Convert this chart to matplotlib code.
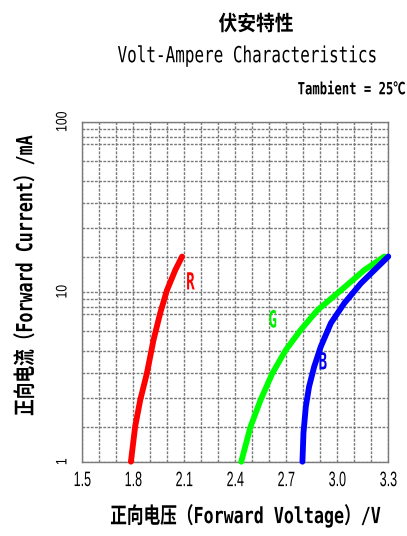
import matplotlib
matplotlib.use("Agg")
import matplotlib.pyplot as plt
from matplotlib.ticker import FixedLocator, NullFormatter
from matplotlib.patheffects import AbstractPathEffect
from matplotlib.transforms import Affine2D

# forward voltage (V) vs forward current (mA)
red_v = [1.786, 1.811, 1.841, 1.880, 1.919, 1.958, 1.998, 2.047, 2.087]
red_i = [1.0, 1.61, 2.31, 3.31, 5.2, 7.46, 10.2, 13.4, 16.1]

green_v = [2.435, 2.490, 2.549, 2.618, 2.697, 2.785, 2.884, 3.022, 3.159, 3.277]
green_i = [1.0, 1.61, 2.31, 3.31, 4.54, 5.96, 7.8, 10.2, 13.4, 16.1]

blue_v = [2.795, 2.801, 2.815, 2.834, 2.864, 2.903, 2.962, 3.041, 3.139, 3.238, 3.300]
blue_i = [1.0, 1.47, 2.11, 2.76, 3.62, 4.75, 6.52, 8.55, 11.2, 14.0, 16.1]

x_ticks = [1.5, 1.8, 2.1, 2.4, 2.7, 3.0, 3.3]
x_tick_labels = ["1.5", "1.8", "2.1", "2.4", "2.7", "3.0", "3.3"]
y_ticks = [1, 10, 100]
y_tick_labels = ["1", "10", "100"]

# the printed grid is not a true log grid: line offsets inside one decade
grid_frac = [0.206, 0.373, 0.52, 0.651, 0.769, 0.867, 0.912, 0.955]

MONO = ["DejaVu Sans Mono", "Noto Sans CJK SC"]
SANS = ["Liberation Sans", "DejaVu Sans"]
GRID = "#7a7a7a"


class Tall(AbstractPathEffect):
    """stretch glyphs across the baseline (the reference uses tall narrow fonts)"""
    def __init__(self, sy):
        super().__init__()
        self.sy = sy

    def draw_path(self, renderer, gc, tpath, affine, rgbFace=None):
        ext = tpath.get_extents()
        cy = (ext.y0 + ext.y1) / 2
        t = Affine2D().translate(0, -cy).scale(1, self.sy).translate(0, cy) + affine
        renderer.draw_path(gc, tpath, t, rgbFace)


fig = plt.figure(figsize=(4.07, 5.36), dpi=100)
fig.patch.set_facecolor("white")
ax = fig.add_axes([0.2022, 0.1386, 0.954 - 0.2022, 0.773 - 0.1386])

ax.set_yscale("log")
ax.set_xlim(1.5, 3.3)
ax.set_ylim(1, 100)

minor_y = [10 ** (d + f) for d in (0, 1) for f in grid_frac]
ax.yaxis.set_minor_locator(FixedLocator(minor_y))
ax.yaxis.set_minor_formatter(NullFormatter())
ax.set_yticks(y_ticks)
ax.set_yticklabels(y_tick_labels, rotation=90, va="center", family=SANS, fontsize=8.8)
ax.xaxis.set_minor_locator(FixedLocator([1.5 + 0.1 * k for k in range(19)]))
ax.set_xticks(x_ticks)
ax.set_xticklabels(x_tick_labels, family=SANS, fontsize=9)
for lab in ax.get_xticklabels():
    lab.set_path_effects([Tall(1.67)])
for lab in ax.get_yticklabels():
    lab.set_path_effects([Tall(1.25)])
ax.tick_params(which="both", length=0)
ax.tick_params(axis="x", pad=9)
ax.tick_params(axis="y", pad=10)

ax.grid(True, which="both", color=GRID, linestyle=(0, (2, 1)), linewidth=1.0)
for s in ax.spines.values():
    s.set_color(GRID)
    s.set_linestyle((0, (2, 1)))
    s.set_linewidth(1.0)

ax.plot(red_v, red_i, color="#ff0000", lw=4.2, solid_capstyle="round", clip_on=False, zorder=3)
ax.plot(green_v, green_i, color="#00ff00", lw=4.2, solid_capstyle="round", clip_on=False, zorder=3)
ax.plot(blue_v, blue_i, color="#0000ff", lw=4.2, solid_capstyle="round", clip_on=False, zorder=3)

for lx, ly, name, col in [(2.136, 11.4, "R", "#ff0000"), (2.62, 6.82, "G", "#00ee00"),
                          (2.915, 3.86, "B", "#0000ee")]:
    ax.text(lx, ly, name, color=col, fontsize=10.2, fontweight="bold", family=MONO,
            ha="center", va="center", path_effects=[Tall(1.67)])

fig.text(0.629, 0.955, "伏安特性", ha="center", va="center", fontsize=13.5, fontweight="bold",
         family=["Noto Sans CJK SC", "DejaVu Sans"], path_effects=[Tall(1.11)])
fig.text(0.608, 0.8955, "Volt-Ampere Characteristics", ha="center", va="center", fontsize=11.5,
         family=MONO, path_effects=[Tall(1.39)])
fig.text(0.997, 0.834, "Tambient = 25℃", ha="right", va="center", fontsize=8.8, fontweight="bold",
         family=MONO, path_effects=[Tall(1.37)])

ax.set_xlabel("正向电压（Forward Voltage）/V", family=MONO, fontsize=12, fontweight="bold",
              va="center", path_effects=[Tall(1.33)])
ax.xaxis.set_label_coords(0.532, -0.160)
ax.set_ylabel("正向电流（Forward Current）/mA", family=MONO, fontsize=12, fontweight="bold",
              va="center", path_effects=[Tall(1.33)])
ax.yaxis.set_label_coords(-0.187, 0.546)

plt.savefig("out.png", dpi=100, facecolor=fig.get_facecolor())
plt.close(fig)
